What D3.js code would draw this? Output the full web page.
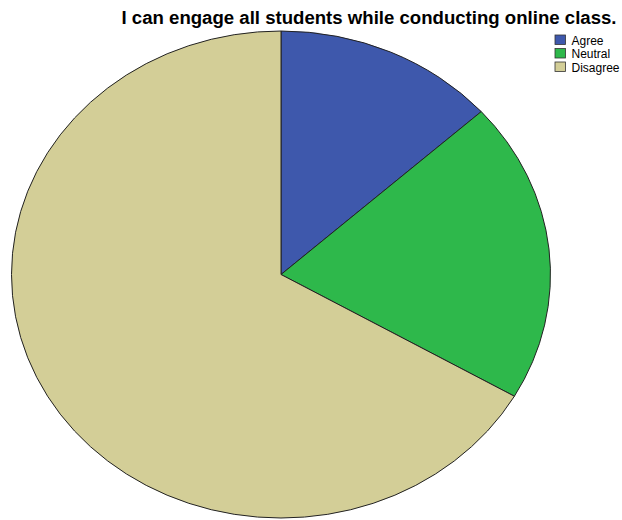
<!DOCTYPE html>
<html>
<head>
<meta charset="utf-8">
<script src="https://cdn.jsdelivr.net/npm/d3@7/dist/d3.min.js"></script>
<style>
  html, body { margin: 0; padding: 0; background: #fff; }
  svg { display: block; }
</style>
</head>
<body>
<script>
// Survey responses
const categories = ["Agree", "Neutral", "Disagree"];
const counts = [2, 3, 10];
const colors = ["#3e58ac", "#2eb84b", "#d3ce97"];
const title = "I can engage all students while conducting online class.";

const W = 622, H = 520;
const cx = 281, cy = 274.5, rx = 269.5, ry = 243.5;

const svg = d3.select("body").append("svg")
  .attr("width", W).attr("height", H);

svg.append("text")
  .attr("x", 616.5).attr("y", 24)
  .attr("text-anchor", "end")
  .attr("font-family", "Liberation Sans, Arial, sans-serif")
  .attr("font-weight", "bold")
  .attr("font-size", 18)
  .attr("textLength", 495)
  .attr("lengthAdjust", "spacingAndGlyphs")
  .attr("fill", "#000")
  .text(title);

const data = categories.map((c, i) => ({ cat: c, value: counts[i], color: colors[i] }));
const pie = d3.pie().value(d => d.value).sort(null);
const arc = d3.arc().innerRadius(0).outerRadius(1);

// Unit pie stretched into an ellipse
const g = svg.append("g")
  .attr("transform", `translate(${cx},${cy}) scale(${rx},${ry})`);

g.selectAll("path")
  .data(pie(data))
  .join("path")
  .attr("d", arc)
  .attr("fill", d => d.data.color)
  .attr("stroke", "#222")
  .attr("stroke-width", 1)
  .attr("vector-effect", "non-scaling-stroke");

// Legend
const legend = svg.append("g").attr("transform", "translate(555,35)");
const rows = legend.selectAll("g")
  .data(data)
  .join("g")
  .attr("transform", (d, i) => `translate(0,${i * 13.5})`);
rows.append("rect")
  .attr("width", 10.5).attr("height", 9.5)
  .attr("fill", d => d.color)
  .attr("stroke", "#333").attr("stroke-width", 0.8);
rows.append("text")
  .attr("x", 16.5).attr("y", 9.5)
  .attr("font-family", "Liberation Sans, Arial, sans-serif")
  .attr("font-size", 12)
  .attr("fill", "#000")
  .text(d => d.cat);
</script>
</body>
</html>
